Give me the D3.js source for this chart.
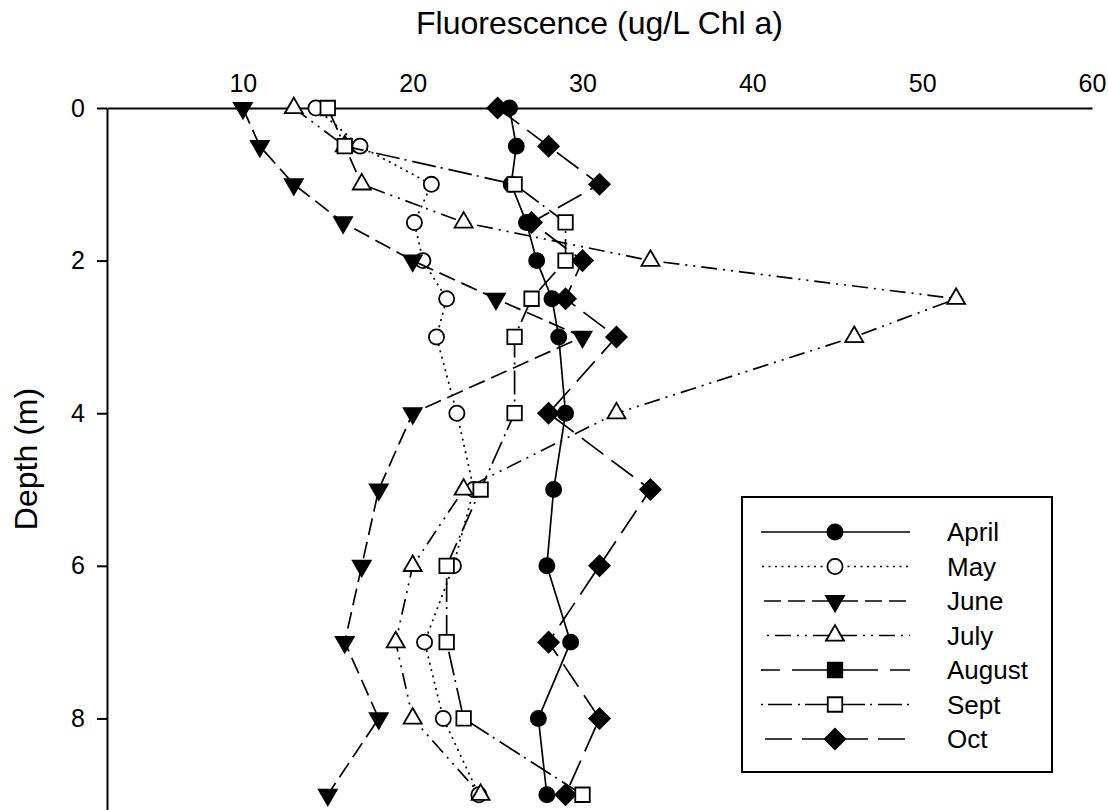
<!DOCTYPE html>
<html>
<head>
<meta charset="utf-8">
<script src="https://cdn.jsdelivr.net/npm/d3@7"></script>
<style>
  html, body { margin: 0; padding: 0; background: #fff; }
  svg { display: block; font-family: "Liberation Sans", Arial, sans-serif; }
</style>
</head>
<body>
<svg id="chart" width="1108" height="810"></svg>
<script>
// Sampling depths (m)
const depths = [0, 0.5, 1, 1.5, 2, 2.5, 3, 4, 5, 6, 7, 8, 9];

// Fluorescence (ug/L Chl a) per month at each depth
const april  = [25.7, 26.1, 25.8, 26.7, 27.3, 28.2, 28.6, 29.0, 28.3, 27.9, 29.3, 27.4, 27.9];
const may    = [14.3, 16.9, 21.1, 20.1, 20.6, 22.0, 21.4, 22.6, 23.6, 22.4, 20.7, 21.8, 23.9];
const june   = [10, 11, 13, 15.9, 20, 24.9, 30, 20, 18, 17, 16, 18, 15];
const july   = [13, 16, 17, 23, 34, 52, 46, 32, 23, 20, 19, 20, 24];
const august = [];
const sept   = [15, 16, 26, 29, 29, 27, 26, 26, 24, 22, 22, 23, 30];
const oct    = [25, 28, 31, 27, 30, 29, 32, 28, 34, 31, 28, 31, 29];

const monthNames = ["April", "May", "June", "July", "August", "Sept", "Oct"];
const xTicks = [10, 20, 30, 40, 50, 60];
const yTicks = [0, 2, 4, 6, 8];

// Line and marker style for each month
const styles = {
  April:  { dash: null,               symbol: "circle",   fill: "#000" },
  May:    { dash: "2,4.5",            symbol: "circle",   fill: "#fff" },
  June:   { dash: "17,7",             symbol: "triDown",  fill: "#000" },
  July:   { dash: "16,6,2,6,2,6",     symbol: "triUp",    fill: "#fff" },
  August: { dash: "37,12",            symbol: "square",   fill: "#000" },
  Sept:   { dash: "24,5,2,6",         symbol: "square",   fill: "#fff" },
  Oct:    { dash: "27,10",            symbol: "diamond",  fill: "#000" }
};

const valuesByMonth = { April: april, May: may, June: june, July: july, August: august, Sept: sept, Oct: oct };

const svg = d3.select("#chart");

const x = d3.scaleLinear().domain([2, 60]).range([107, 1092]);
const y = d3.scaleLinear().domain([0, 9.2]).range([108, 810]);

// Axes
const xAxis = d3.axisTop(x).tickValues(xTicks).tickSize(0).tickSizeOuter(0).tickPadding(16);
const yAxis = d3.axisLeft(y).tickValues(yTicks).tickSize(10).tickSizeOuter(0).tickPadding(12);

const gx = svg.append("g").attr("transform", `translate(0,${y(0)})`).call(xAxis);
const gy = svg.append("g").attr("transform", `translate(${x(2)},0)`).call(yAxis);

[gx, gy].forEach(g => {
  g.select(".domain").attr("stroke", "#000").attr("stroke-width", 2);
  g.selectAll(".tick line").attr("stroke", "#000").attr("stroke-width", 2);
  g.selectAll(".tick text").attr("fill", "#000").style("font-size", "25px")
    .style("font-family", "Liberation Sans, Arial, sans-serif");
});

// Axis titles
svg.append("text")
  .attr("x", (x.range()[0] + x.range()[1]) / 2)
  .attr("y", 34)
  .attr("text-anchor", "middle")
  .style("font-size", "32px")
  .text("Fluorescence (ug/L Chl a)");

svg.append("text")
  .attr("transform", `translate(37,${(y.range()[0] + y.range()[1]) / 2}) rotate(-90)`)
  .attr("text-anchor", "middle")
  .style("font-size", "32px")
  .text("Depth (m)");

// Marker shapes
function symbolPath(kind) {
  switch (kind) {
    case "circle":  return d3.symbol(d3.symbolCircle, 180)();
    case "square":  return d3.symbol(d3.symbolSquare, 210)();
    case "diamond": return d3.symbol(d3.symbolSquare, 210)();
    case "triUp":
    case "triDown": return d3.symbol(d3.symbolTriangle, 140)();
  }
}
function symbolRotate(kind) {
  if (kind === "diamond") return 45;
  if (kind === "triDown") return 180;
  return 0;
}

function drawMarker(g, kind, fill, cx, cy) {
  g.append("path")
    .attr("d", symbolPath(kind))
    .attr("transform", `translate(${cx},${cy}) rotate(${symbolRotate(kind)})`)
    .attr("fill", fill)
    .attr("stroke", "#000")
    .attr("stroke-width", 1.8);
}

const line = d3.line().x(d => x(d.v)).y(d => y(d.depth));

// Profiles
const drawOrder = ["May", "June", "July", "August", "Oct", "April", "Sept"];
drawOrder.forEach(name => {
  const vals = valuesByMonth[name];
  if (!vals.length) return;
  const st = styles[name];
  const pts = vals.map((v, i) => ({ v, depth: depths[i] }));
  const g = svg.append("g").attr("class", "series");
  g.append("path")
    .datum(pts)
    .attr("d", line)
    .attr("fill", "none")
    .attr("stroke", "#000")
    .attr("stroke-width", 1.7)
    .attr("stroke-dasharray", st.dash);
  pts.forEach(p => drawMarker(g, st.symbol, st.fill, x(p.v), y(p.depth)));
});

// Legend
const legend = svg.append("g").attr("class", "legend");
legend.append("rect")
  .attr("x", 742).attr("y", 497).attr("width", 310).attr("height", 275)
  .attr("fill", "#fff").attr("stroke", "#000").attr("stroke-width", 2);

monthNames.forEach((name, i) => {
  const st = styles[name];
  const ry = 532 + i * 34.5;
  const cx = 835;
  // sample line drawn outward from the marker on each side
  [[cx, 761], [cx, 910]].forEach(([a, b]) => {
    legend.append("line")
      .attr("x1", a).attr("x2", b).attr("y1", ry).attr("y2", ry)
      .attr("stroke", "#000").attr("stroke-width", 1.7)
      .attr("stroke-dasharray", st.dash)
      .attr("stroke-dashoffset", -6);
  });
  drawMarker(legend, st.symbol, st.fill, cx, ry);
  legend.append("text")
    .attr("x", 947).attr("y", ry)
    .attr("dy", "0.35em")
    .style("font-size", "26px")
    .text(name);
});
</script>
</body>
</html>
